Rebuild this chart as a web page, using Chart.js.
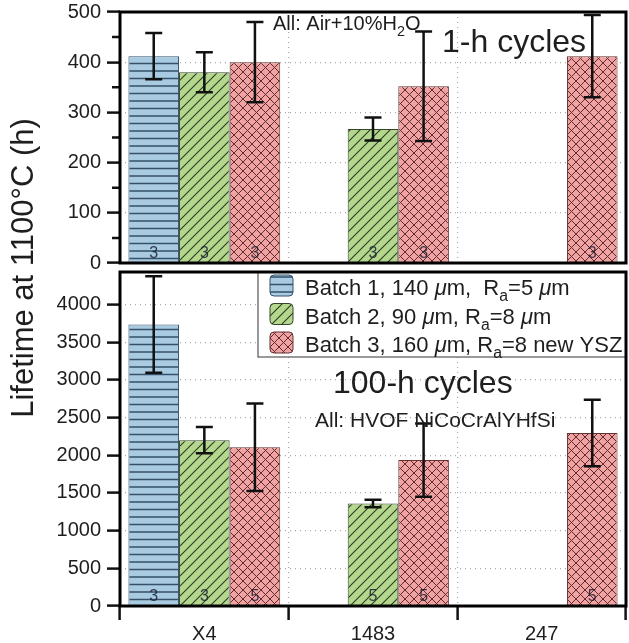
<!doctype html>
<html lang="en">
<head>
<meta charset="utf-8">
<title>Lifetime at 1100°C</title>
<script src="https://cdn.jsdelivr.net/npm/chart.js"></script>
<style>
  html, body { margin: 0; padding: 0; background: #fff; }
  #wrap { position: relative; width: 629px; height: 643px; overflow: hidden; font-family: "Liberation Sans", Arial, sans-serif; }
  #topBox { position: absolute; left: 0; top: 0; width: 629px; height: 270px; }
  #botBox { position: absolute; left: 0; top: 266px; width: 629px; height: 377px; }
  #ytitle { position: absolute; left: -177px; top: 251px; width: 400px; height: 34px; line-height: 34px;
            text-align: center; font-size: 31px; color: #1e1e1e; transform: rotate(-90deg); white-space: nowrap; }
</style>
</head>
<body>
<div id="wrap">
  <div id="topBox"><canvas id="top" width="629" height="270"></canvas></div>
  <div id="botBox"><canvas id="bot" width="629" height="377"></canvas></div>
  <div id="ytitle">Lifetime at 1100°C (h)</div>
</div>
<script>
// ---- data ----
const categories = ['X4', '1483', '247'];

// 1-h cycles (top panel)
const h1Batch1 = [412, null, null];
const h1Batch2 = [380, 267, null];
const h1Batch3 = [400, 352, 412];
const h1Err1 = [46, null, null];
const h1Err2 = [40, 23, null];
const h1Err3 = [80, 109, 82];
const h1Count1 = [3, null, null];
const h1Count2 = [3, 3, null];
const h1Count3 = [3, 3, 3];

// 100-h cycles (bottom panel)
const h100Batch1 = [3735, null, null];
const h100Batch2 = [2200, 1360, null];
const h100Batch3 = [2105, 1935, 2295];
const h100Err1 = [640, null, null];
const h100Err2 = [175, 50, null];
const h100Err3 = [580, 485, 440];
const h100Count1 = [3, null, null];
const h100Count2 = [3, 5, null];
const h100Count3 = [5, 5, 5];

// tick labels
const topTickValues = [0, 100, 200, 300, 400, 500];
const topMinorValues = [50, 150, 250, 350, 450];
const botTickValues = [0, 500, 1000, 1500, 2000, 2500, 3000, 3500, 4000];
const topMax = 500;
const botMax = 4430;

const FONT = '"Liberation Sans", Arial, sans-serif';

// ---- hatch patterns ----
function makePattern(kind) {
  const c = document.createElement('canvas');
  const g = c.getContext('2d');
  if (kind === 'h') {
    c.width = 8; c.height = 15;
    g.fillStyle = '#a9cbe2'; g.fillRect(0, 0, 8, 15);
    g.strokeStyle = '#34506a'; g.lineWidth = 1.3;
    g.beginPath(); g.moveTo(0, 3.5); g.lineTo(8, 3.5); g.moveTo(0, 11); g.lineTo(8, 11); g.stroke();
  } else if (kind === 'd') {
    c.width = 10; c.height = 10;
    g.fillStyle = '#b4d78e'; g.fillRect(0, 0, 10, 10);
    g.strokeStyle = '#2e3b22'; g.lineWidth = 1.1;
    g.beginPath();
    g.moveTo(0, 10); g.lineTo(10, 0);
    g.moveTo(-1, 1); g.lineTo(1, -1);
    g.moveTo(9, 11); g.lineTo(11, 9);
    g.stroke();
  } else {
    c.width = 9; c.height = 9;
    g.fillStyle = '#f1a3a4'; g.fillRect(0, 0, 9, 9);
    g.strokeStyle = '#5e2c2c'; g.lineWidth = 1;
    g.beginPath();
    g.moveTo(0, 0); g.lineTo(9, 9);
    g.moveTo(0, 9); g.lineTo(9, 0);
    g.stroke();
  }
  return g.createPattern(c, 'repeat');
}
const fills = [makePattern('h'), makePattern('d'), makePattern('x')];
const edges = ['#34506a', '#34442a', '#643232'];

// rich text: segments {t, it, sub}
function drawRich(ctx, x, y, segs, size) {
  ctx.textBaseline = 'alphabetic';
  ctx.textAlign = 'left';
  for (const s of segs) {
    const fs = s.sub ? size * 0.72 : size;
    ctx.font = (s.it ? 'italic ' : '') + fs + 'px ' + FONT;
    ctx.fillText(s.t, x, y + (s.sub ? size * 0.28 : 0));
    x += ctx.measureText(s.t).width;
  }
}

const legendRows = [
  [{t: 'Batch 1, 140 '}, {t: 'μ', it: true}, {t: 'm,  R'}, {t: 'a', sub: true}, {t: '=5 '}, {t: 'μ', it: true}, {t: 'm'}],
  [{t: 'Batch 2, 90 '}, {t: 'μ', it: true}, {t: 'm, R'}, {t: 'a', sub: true}, {t: '=8 '}, {t: 'μ', it: true}, {t: 'm'}],
  [{t: 'Batch 3, 160 '}, {t: 'μ', it: true}, {t: 'm, R'}, {t: 'a', sub: true}, {t: '=8 new YSZ'}]
];

function roundRect(ctx, x, y, w, h, r) {
  ctx.beginPath();
  ctx.moveTo(x + r, y);
  ctx.arcTo(x + w, y, x + w, y + h, r);
  ctx.arcTo(x + w, y + h, x, y + h, r);
  ctx.arcTo(x, y + h, x, y, r);
  ctx.arcTo(x, y, x + w, y, r);
  ctx.closePath();
}

const decor = {
  id: 'decor',
  afterDatasetsDraw(chart, args, opts) {
    const ctx = chart.ctx;
    const ys = chart.scales.y;
    const area = chart.chartArea;
    ctx.save();
    chart.data.datasets.forEach((ds, i) => {
      const meta = chart.getDatasetMeta(i);
      ds.data.forEach((v, j) => {
        if (v == null) return;
        const x = meta.data[j].x;
        // count label
        ctx.fillStyle = 'rgba(25,30,50,0.85)';
        ctx.font = '16px ' + FONT;
        ctx.textAlign = 'center';
        ctx.textBaseline = 'middle';
        ctx.fillText(String(ds.counts[j]), x, area.bottom - 9);
        // error bar
        const e = ds.errors[j];
        const y1 = ys.getPixelForValue(v + e);
        const y2 = ys.getPixelForValue(v - e);
        ctx.strokeStyle = '#111';
        ctx.lineWidth = 2.5;
        ctx.beginPath();
        ctx.moveTo(x, y1); ctx.lineTo(x, y2);
        ctx.moveTo(x - 8.5, y1); ctx.lineTo(x + 8.5, y1);
        ctx.moveTo(x - 8.5, y2); ctx.lineTo(x + 8.5, y2);
        ctx.stroke();
      });
    });
    ctx.restore();
  },
  afterDraw(chart, args, opts) {
    const ctx = chart.ctx;
    const a = chart.chartArea;
    const ys = chart.scales.y;
    ctx.save();
    // minor ticks
    if (opts.minor) {
      ctx.strokeStyle = '#111';
      ctx.lineWidth = 2.5;
      ctx.beginPath();
      opts.minor.forEach(v => {
        const y = ys.getPixelForValue(v);
        ctx.moveTo(a.left - 8, y); ctx.lineTo(a.left, y);
      });
      ctx.stroke();
    }
    // legend
    if (opts.legend) {
      const L = 258, T = a.top, R = a.right, B = a.top + 85;
      ctx.fillStyle = '#fff';
      ctx.fillRect(L, T, R - L, B - T);
      ctx.strokeStyle = '#555';
      ctx.lineWidth = 1.2;
      ctx.strokeRect(L, T, R - L, B - T);
      legendRows.forEach((segs, i) => {
        const sy = T + 3 + i * 28.5;
        roundRect(ctx, 270, sy, 23, 21, 4);
        ctx.fillStyle = fills[i];
        ctx.fill();
        ctx.strokeStyle = edges[i];
        ctx.lineWidth = 1;
        ctx.stroke();
        ctx.fillStyle = '#1e1e1e';
        drawRich(ctx, 305, T + 23 + i * 28.5, segs, 22);
      });
    }
    // panel notes
    (opts.notes || []).forEach(n => {
      ctx.fillStyle = '#1e1e1e';
      drawRich(ctx, n.x, n.y, n.segs, n.size);
    });
    // frame
    ctx.strokeStyle = '#000';
    ctx.lineWidth = 3;
    ctx.strokeRect(a.left, a.top, a.right - a.left, a.bottom - a.top);
    ctx.restore();
  }
};

function makeDatasets(vals, errs, counts) {
  return vals.map((d, i) => ({
    data: d,
    errors: errs[i],
    counts: counts[i],
    backgroundColor: fills[i],
    borderColor: edges[i],
    borderWidth: 1,
    categoryPercentage: 0.9,
    barPercentage: 1.0
  }));
}

function makeOptions(tickValues, max, showX, padTop, padBottom, xHeight, decorOpts) {
  return {
    responsive: false,
    animation: false,
    layout: { padding: { top: padTop, right: 3, bottom: padBottom, left: 0 } },
    plugins: { legend: { display: false }, tooltip: { enabled: false }, decor: decorOpts },
    scales: {
      x: {
        border: { display: false, dash: [1, 4] },
        grid: {
          color: c => (c.index === 0 || c.index === categories.length) ? 'rgba(0,0,0,0)' : '#a8a8a8',
          lineWidth: 1.2,
          drawTicks: showX,
          tickLength: 14,
          tickColor: '#111',
          tickWidth: 2.5,
          tickBorderDash: []
        },
        ticks: { display: showX, color: '#1e1e1e', font: { family: FONT, size: 20 }, padding: 2 },
        afterFit: s => { s.height = xHeight; s.paddingLeft = 0; s.paddingRight = 0; }
      },
      y: {
        min: 0,
        max: max,
        border: { display: false, dash: [1, 4] },
        afterFit: s => { s.width = 120; s.paddingTop = 0; s.paddingBottom = 0; },
        afterBuildTicks: s => { s.ticks = tickValues.map(v => ({ value: v })); },
        grid: {
          color: c => (c.tick.value === 0 || c.tick.value >= max) ? 'rgba(0,0,0,0)' : '#a8a8a8',
          lineWidth: 1.2,
          tickLength: 13,
          tickColor: '#111',
          tickWidth: 2.5,
          tickBorderDash: []
        },
        ticks: {
          padding: 6,
          color: '#1e1e1e',
          font: { family: FONT, size: 20 },
          autoSkip: false,
          callback: v => String(v)
        }
      }
    }
  };
}

new Chart(document.getElementById('top'), {
  type: 'bar',
  data: {
    labels: categories,
    datasets: makeDatasets([h1Batch1, h1Batch2, h1Batch3], [h1Err1, h1Err2, h1Err3], [h1Count1, h1Count2, h1Count3])
  },
  options: makeOptions(topTickValues, topMax, false, 12, 7, 0, {
    minor: topMinorValues,
    notes: [
      { x: 273, y: 30, size: 20, segs: [{t: 'All: Air+10%H'}, {t: '2', sub: true}, {t: 'O'}] },
      { x: 442, y: 52, size: 32, segs: [{t: '1-h cycles'}] }
    ]
  }),
  plugins: [decor]
});

new Chart(document.getElementById('bot'), {
  type: 'bar',
  data: {
    labels: categories,
    datasets: makeDatasets([h100Batch1, h100Batch2, h100Batch3], [h100Err1, h100Err2, h100Err3], [h100Count1, h100Count2, h100Count3])
  },
  options: makeOptions(botTickValues, botMax, true, 6, 0, 37, {
    legend: true,
    notes: [
      { x: 333, y: 127, size: 32, segs: [{t: '100-h cycles'}] },
      { x: 315, y: 161, size: 21, segs: [{t: 'All: HVOF NiCoCrAlYHfSi'}] }
    ]
  }),
  plugins: [decor]
});
</script>
</body>
</html>
